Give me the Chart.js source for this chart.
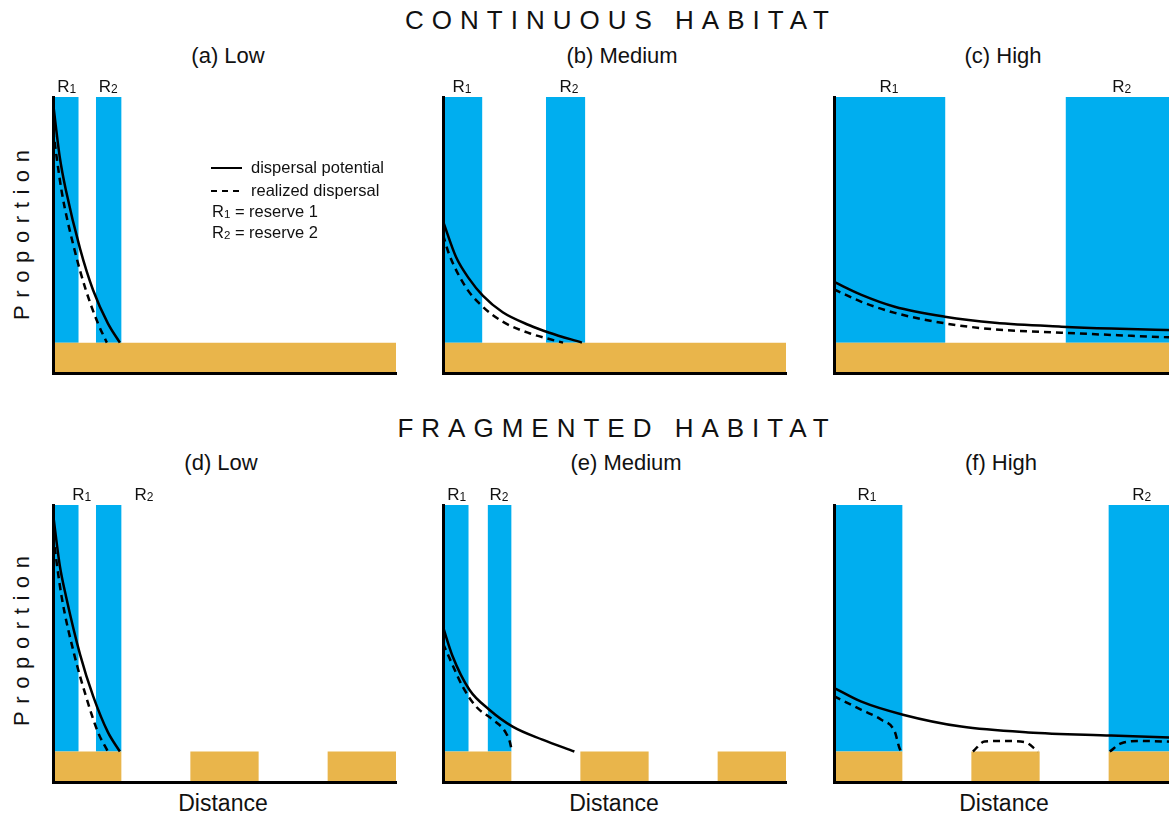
<!DOCTYPE html>
<html>
<head>
<meta charset="utf-8">
<title>Dispersal in continuous and fragmented habitat</title>
<script src="https://cdn.jsdelivr.net/npm/chart.js@4.4.1/dist/chart.umd.min.js"></script>
<style>
	html, body { margin: 0; padding: 0; width: 1169px; height: 816px; overflow: hidden; background: #fff; }
	body { position: relative; font-family: "Liberation Sans", Arial, sans-serif; color: #111; }
	.txt { position: absolute; transform: translate(-50%, -50%); white-space: nowrap; line-height: 1; }
	.head { font-size: 26px; letter-spacing: 8px; padding-left: 8px; }
	.sub { font-size: 22px; }
	.ylab { font-size: 22px; letter-spacing: 7.6px; padding-left: 7.6px; transform: translate(-50%, -50%) rotate(-90deg); }
	.xlab { font-size: 23px; }
	canvas { position: absolute; }
</style>
</head>
<body>
<div class="txt head" style="left:617px;top:20px">CONTINUOUS HABITAT</div>
<div class="txt head" style="left:613px;top:428px">FRAGMENTED HABITAT</div>

<div class="txt sub" style="left:228px;top:56px">(a) Low</div>
<div class="txt sub" style="left:622px;top:56px">(b) Medium</div>
<div class="txt sub" style="left:1003px;top:56px">(c) High</div>
<div class="txt sub" style="left:221px;top:463px">(d) Low</div>
<div class="txt sub" style="left:626px;top:463px">(e) Medium</div>
<div class="txt sub" style="left:1001px;top:463px">(f) High</div>

<div class="txt ylab" style="left:22px;top:235px">Proportion</div>
<div class="txt ylab" style="left:22px;top:641px">Proportion</div>

<div class="txt xlab" style="left:223px;top:803px">Distance</div>
<div class="txt xlab" style="left:614px;top:803px">Distance</div>
<div class="txt xlab" style="left:1004px;top:803px">Distance</div>

<canvas id="panelA" width="363" height="312" style="left:43px;top:67px"></canvas>
<canvas id="panelB" width="363" height="312" style="left:433px;top:67px"></canvas>
<canvas id="panelC" width="363" height="312" style="left:824px;top:67px"></canvas>
<canvas id="panelD" width="363" height="313" style="left:43px;top:475px"></canvas>
<canvas id="panelE" width="363" height="313" style="left:433px;top:475px"></canvas>
<canvas id="panelF" width="363" height="313" style="left:824px;top:475px"></canvas>

<script>
	// distance runs 0..10 in every panel, proportion 0..100
	const xMax = 10;
	const yTop = 100;
	const habitatTop = 11;

	const continuousHabitat = [[0, 10]];
	const fragmentedHabitat = [[0, 2], [4, 6], [8, 10]];

	const reservesA = [[0, 0.75], [1.25, 2]];
	const reservesB = [[0, 1.15], [3, 4.15]];
	const reservesC = [[0, 3.25], [6.75, 10]];
	const reservesD = [[0, 0.75], [1.25, 2]];
	const reservesE = [[0, 0.75], [1.3, 2]];
	const reservesF = [[0, 2], [8, 10]];

	// where the R1 / R2 names sit along the distance axis
	const reserveNameXA = [0.4, 1.61];
	const reserveNameXB = [0.55, 3.67];
	const reserveNameXC = [1.6, 8.39];
	const reserveNameXD = [0.84, 2.65];
	const reserveNameXE = [0.4, 1.63];
	const reserveNameXF = [0.96, 8.97];

	const potentialA = [[0, 98], [0.2, 78], [0.38, 66], [0.79, 45], [1.17, 30], [1.6, 18], [1.95, 11]];
	const realizedA = [[0, 88], [0.25, 66], [0.62, 45], [0.96, 30], [1.31, 18], [1.57, 11]];

	const potentialB = [[0, 55], [0.38, 42], [0.77, 34], [1.16, 28], [1.74, 22], [2.52, 17.3], [3.1, 14.6], [4.05, 11]];
	const realizedB = [[0, 50], [0.18, 43], [0.67, 31], [1.16, 24], [1.74, 18.6], [2.52, 14.4], [3.1, 12.3], [3.5, 11]];

	const potentialC = [[0, 33], [0.8, 28.3], [1.77, 24], [3.23, 20.4], [4.69, 18.2], [6.63, 16.8], [8.08, 16.1], [10, 15.5]];
	const realizedC = [[0, 30.3], [0.8, 25.8], [1.77, 21.8], [3.23, 18], [4.69, 15.8], [6.63, 14.6], [8.08, 13.8], [10, 12.8]];

	const potentialD = [[0, 97], [0.2, 78], [0.38, 67], [0.79, 46], [1.17, 31], [1.6, 18], [1.95, 11]];
	const realizedD = [[0, 89], [0.25, 67], [0.62, 46], [0.96, 31], [1.31, 18], [1.6, 11]];

	const potentialE = [[0, 56], [0.28, 45.4], [0.77, 33.3], [1.35, 26.1], [2.03, 20], [2.9, 15.3], [3.83, 11]];
	const realizedE = [[0, 50], [0.23, 43.6], [0.57, 34.5], [0.96, 27.3], [1.45, 22.5], [1.84, 17.6], [1.98, 12.8], [2, 11]];

	const potentialF = [[0, 34], [0.8, 29], [2.01, 24.3], [3.71, 20], [5.66, 17.9], [8.08, 16.8], [10, 16]];
	const realizedFReserve1 = [[0, 31], [0.8, 26], [1.38, 22.5], [1.77, 18.2], [1.91, 12.2], [1.97, 11]];
	const realizedFPatch = [[4.05, 11], [4.39, 14.6], [4.98, 14.8], [5.56, 14.4], [5.95, 11]];
	const realizedFReserve2 = [[8.04, 11], [8.38, 14], [8.96, 14.8], [10, 14.5]];

	const reserveColor = '#00AEEF';
	const habitatColor = '#E9B54B';
	const fontFamily = '"Liberation Sans", Arial, sans-serif';
	const solidWidth = 2.5;
	const dashPattern = [7, 5];

	function measureReserveName(ctx, n, size, subSize) {
		ctx.font = `${size}px ${fontFamily}`;
		const wR = ctx.measureText('R').width;
		ctx.font = `${subSize}px ${fontFamily}`;
		return wR + ctx.measureText(String(n)).width;
	}

	function drawReserveName(ctx, left, baseline, n, size, subSize) {
		ctx.font = `${size}px ${fontFamily}`;
		ctx.fillText('R', left, baseline);
		const wR = ctx.measureText('R').width;
		ctx.font = `${subSize}px ${fontFamily}`;
		ctx.fillText(String(n), left + wR, baseline + 1);
		return wR + ctx.measureText(String(n)).width;
	}

	const reserveNamePlugin = {
		id: 'reserveNames',
		afterDatasetsDraw(chart, args, opts) {
			const { ctx, chartArea, scales } = chart;
			ctx.save();
			ctx.fillStyle = '#111';
			ctx.textBaseline = 'alphabetic';
			(opts.items || []).forEach((xv, i) => {
				const w = measureReserveName(ctx, i + 1, 17, 12);
				const cx = scales.x.getPixelForValue(xv);
				drawReserveName(ctx, cx - w / 2, chartArea.top - 5, i + 1, 17, 12);
			});
			ctx.restore();
		}
	};

	const keyPlugin = {
		id: 'dispersalKey',
		afterDatasetsDraw(chart, args, opts) {
			if (!opts.show) {
				return;
			}
			const { ctx, chartArea: { left, top } } = chart;
			ctx.save();
			ctx.strokeStyle = '#000';
			ctx.fillStyle = '#111';
			ctx.lineWidth = 2;
			ctx.font = `16.5px ${fontFamily}`;
			ctx.textBaseline = 'middle';

			const rows = [
				{ y: top + 71, dash: [], text: 'dispersal potential' },
				{ y: top + 94, dash: [6, 5], text: 'realized dispersal' }
			];
			rows.forEach((row) => {
				ctx.setLineDash(row.dash);
				ctx.beginPath();
				ctx.moveTo(left + 158, row.y);
				ctx.lineTo(left + 189, row.y);
				ctx.stroke();
				ctx.fillText(row.text, left + 198, row.y);
			});
			ctx.setLineDash([]);

			ctx.textBaseline = 'alphabetic';
			[1, 2].forEach((n, i) => {
				const base = top + 120 + i * 21;
				const w = drawReserveName(ctx, left + 159, base, n, 16.5, 11.5);
				ctx.font = `16.5px ${fontFamily}`;
				ctx.fillText(` = reserve ${n}`, left + 159 + w, base);
			});
			ctx.restore();
		}
	};

	function toPoints(pairs) {
		return pairs.map(([x, y]) => ({ x, y }));
	}

	function blockDataset(span, top, bottom, color, order) {
		return {
			data: toPoints([[span[0], top], [span[1], top]]),
			fill: { value: bottom },
			backgroundColor: color,
			borderColor: 'rgba(0,0,0,0)',
			borderWidth: 0,
			pointRadius: 0,
			order
		};
	}

	function curveDataset(pairs, dashed) {
		return {
			data: toPoints(pairs),
			fill: false,
			borderColor: '#000',
			borderWidth: solidWidth,
			borderDash: dashed ? dashPattern : [],
			cubicInterpolationMode: 'monotone',
			pointRadius: 0,
			order: 0
		};
	}

	function buildPanel(id, habitat, reserves, nameX, potential, realized, showKey) {
		const datasets = [];
		reserves.forEach((span) => datasets.push(blockDataset(span, yTop, habitatTop, reserveColor, 2)));
		habitat.forEach((span) => datasets.push(blockDataset(span, habitatTop, 0, habitatColor, 1)));
		datasets.push(curveDataset(potential, false));
		realized.forEach((pairs) => datasets.push(curveDataset(pairs, true)));

		const axis = (max) => ({
			type: 'linear',
			min: 0,
			max,
			grid: { display: false, drawTicks: false },
			ticks: { display: false },
			border: { display: true, color: '#000', width: 3, z: 1 }
		});

		return new Chart(document.getElementById(id), {
			type: 'line',
			data: { datasets },
			options: {
				responsive: false,
				animation: false,
				events: [],
				layout: { padding: { left: 10, right: 10, top: 30, bottom: 6 } },
				scales: { x: axis(xMax), y: axis(yTop) },
				plugins: {
					legend: { display: false },
					tooltip: { enabled: false },
					reserveNames: { items: nameX },
					dispersalKey: { show: showKey }
				}
			},
			plugins: [reserveNamePlugin, keyPlugin]
		});
	}

	buildPanel('panelA', continuousHabitat, reservesA, reserveNameXA, potentialA, [realizedA], true);
	buildPanel('panelB', continuousHabitat, reservesB, reserveNameXB, potentialB, [realizedB], false);
	buildPanel('panelC', continuousHabitat, reservesC, reserveNameXC, potentialC, [realizedC], false);
	buildPanel('panelD', fragmentedHabitat, reservesD, reserveNameXD, potentialD, [realizedD], false);
	buildPanel('panelE', fragmentedHabitat, reservesE, reserveNameXE, potentialE, [realizedE], false);
	buildPanel('panelF', fragmentedHabitat, reservesF, reserveNameXF, potentialF, [realizedFReserve1, realizedFPatch, realizedFReserve2], false);
</script>
</body>
</html>
